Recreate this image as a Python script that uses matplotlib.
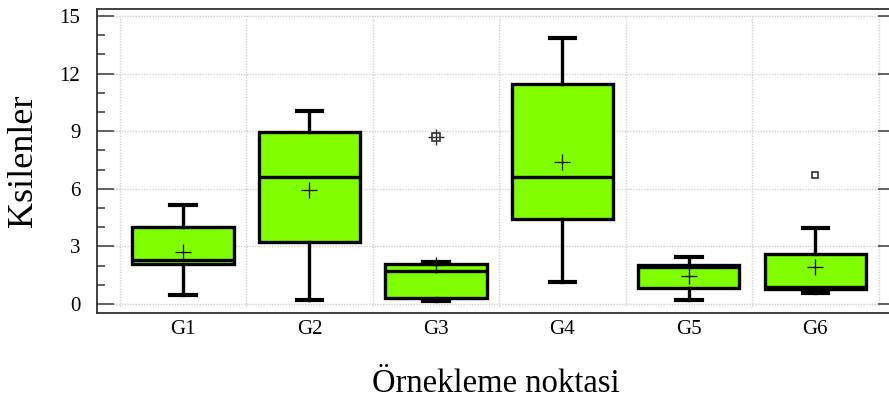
import matplotlib
matplotlib.use("Agg")
import matplotlib.pyplot as plt
from matplotlib.ticker import MultipleLocator

groups = ["G1", "G2", "G3", "G4", "G5", "G6"]
whisker_low = [0.47, 0.21, 0.16, 1.16, 0.21, 0.59]
q1 = [2.07, 3.25, 0.30, 4.41, 0.82, 0.77]
median = [2.29, 6.60, 1.70, 6.63, 1.91, 0.90]
q3 = [4.03, 8.94, 2.07, 11.46, 2.03, 2.59]
whisker_high = [5.14, 10.03, 2.17, 13.85, 2.47, 3.97]
means = [2.72, 5.94, 2.05, 7.41, 1.48, 1.91]
outside = [[], [], [], [], [], [6.72]]
far_outside = [[], [], [8.72], [], [], []]

plt.rcParams["font.family"] = ["Liberation Serif", "DejaVu Serif"]

fig = plt.figure(figsize=(8.89, 3.97), dpi=100)
ax = fig.add_axes([97 / 889, (397 - 313) / 397, (895 - 97) / 889, (313 - 9) / 397])

positions = list(range(1, len(groups) + 1))

# dotted grid confined to the data block
for y in range(0, 16, 3):
    ax.hlines(y, 0.45, 6.5, colors="#d0d0d0", linestyles=(0, (1, 1)), lw=1, zorder=0)
for x in [p - 0.5 for p in positions] + [positions[-1] + 0.5]:
    ax.vlines(x, -0.1, 15, colors="#d0d0d0", linestyles=(0, (1, 1)), lw=1, zorder=0)

stats = []
for i, g in enumerate(groups):
    stats.append({
        "label": g, "whislo": whisker_low[i], "q1": q1[i], "med": median[i],
        "q3": q3[i], "whishi": whisker_high[i], "mean": means[i],
        "fliers": outside[i] + far_outside[i],
    })

line = dict(color="black", linewidth=2.4)
ax.bxp(stats, positions=positions, widths=0.8, patch_artist=True,
       showmeans=True, showfliers=False,
       boxprops=dict(facecolor="#7fff00", edgecolor="black", linewidth=2.4),
       medianprops=line, whiskerprops=line,
       capprops=dict(color="black", linewidth=3), capwidths=0.2,
       meanprops=dict(marker="+", markeredgecolor="black", markersize=11,
                      markeredgewidth=0.9),
       zorder=3)

for p, vals in zip(positions, outside):
    if vals:
        ax.plot([p] * len(vals), vals, "s", mfc="white", mec="#333333",
                ms=5, mew=1.2, zorder=4)
for p, vals in zip(positions, far_outside):
    if vals:
        ax.plot([p] * len(vals), vals, "s", mfc="white", mec="#333333",
                ms=6, mew=1.2, zorder=4)
        ax.plot([p] * len(vals), vals, "+", mec="#333333",
                ms=11, mew=1.0, zorder=5)

ax.set_xlim(0.32, 6.63)
ax.set_ylim(-0.47, 15.37)
ax.set_xticks(positions)
ax.set_xticklabels(groups)
ax.yaxis.set_major_locator(MultipleLocator(3))
ax.yaxis.set_minor_locator(MultipleLocator(1))

ax.tick_params(axis="x", length=0, pad=5, labelsize=15)
ax.tick_params(axis="y", which="major", direction="in", length=12, width=1.3,
               color="#555555", right=True, labelsize=15, pad=12)
ax.tick_params(axis="y", which="minor", direction="in", length=6, width=1.3,
               color="#555555", right=False)

for s in ax.spines.values():
    s.set_color("#333333")
    s.set_linewidth(1.3)

ax.set_ylabel("Ksilenler", fontsize=26, labelpad=14)
ax.set_xlabel("Örnekleme noktasi", fontsize=23.5, labelpad=21)

fig.savefig("out.png", dpi=100)
